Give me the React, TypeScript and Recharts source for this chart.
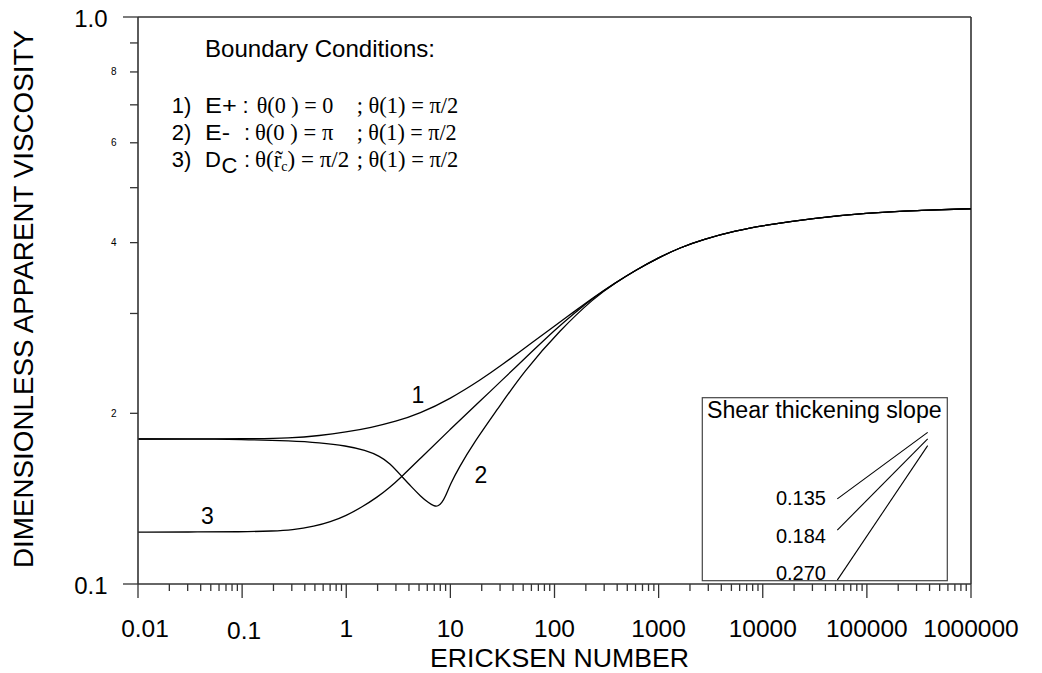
import React from 'react';
import { LineChart, Line, XAxis, YAxis, ReferenceLine } from 'recharts';

// Ericksen number (x) and dimensionless apparent viscosity (y)
const E_PLUS_E = [0.01, 0.03, 0.1, 0.3, 0.55, 1, 1.73, 3, 5, 10, 20, 30, 63, 100, 154, 241];
const E_PLUS_V = [0.1802, 0.1802, 0.1803, 0.1809, 0.1826, 0.1853, 0.1887, 0.1935, 0.1995, 0.2121, 0.2298, 0.242, 0.2678, 0.2851, 0.3021, 0.321];

const E_MINUS_E = [0.01, 0.03, 0.1, 0.3, 0.55, 1, 1.52, 2.11, 2.6, 3.4, 4.19, 5.2, 6.24, 6.96, 7.59, 8.28, 8.97, 10, 12, 16.75, 28.1, 50.7, 114, 241];
const E_MINUS_V = [0.1802, 0.1802, 0.1799, 0.1788, 0.1775, 0.1753, 0.1722, 0.168, 0.1635, 0.155, 0.1486, 0.1427, 0.1388, 0.1373, 0.137, 0.1391, 0.1427, 0.15, 0.1601, 0.1773, 0.2029, 0.2371, 0.2809, 0.3198];

const DC_E = [0.01, 0.03, 0.1, 0.2, 0.3, 0.5, 0.7, 1, 1.4, 2, 2.62, 3.4, 5, 10, 20, 30, 63, 100, 154, 241];
const DC_V = [0.1235, 0.1235, 0.1236, 0.124, 0.1245, 0.1264, 0.1286, 0.132, 0.1365, 0.1424, 0.148, 0.1546, 0.1657, 0.1875, 0.2115, 0.2271, 0.2586, 0.2802, 0.3002, 0.3205];

// common branch where the three solutions coincide
const TAIL_E = [380, 593, 1000, 1600, 2650, 5610, 10000, 30000, 100000, 300000, 1000000];
const TAIL_V = [0.3393, 0.3572, 0.3764, 0.3918, 0.4052, 0.4202, 0.4287, 0.4417, 0.4511, 0.456, 0.459];

// shear thickening slope legend lines (start / end in data units)
const SLOPE_LABELS = ['0.135', '0.184', '0.270'];
const SLOPE_E = [52000, 383700];
const SLOPE_V = [
  [0.1413, 0.1851],
  [0.1245, 0.1802],
  [0.1016, 0.1754],
];

const X_MAJOR_TICKS = [0.01, 0.1, 1, 10, 100, 1000, 10000, 100000, 1000000];
const X_TICK_LABELS = ['0.01', '0.1', '1', '10', '100', '1000', '10000', '100000', '1000000'];
const X_MINOR_STEPS = [2, 3, 4, 5, 6, 7, 8, 9];
const Y_TICKS = [0.1, 0.2, 0.3, 0.4, 0.5, 0.6, 0.7, 0.8, 0.9, 1.0];
const Y_TICK_LABELS = ['0.1', '2', '', '4', '', '6', '', '8', '', '1.0'];

const X_TICKS = [
  ...X_MAJOR_TICKS,
  ...X_MAJOR_TICKS.slice(0, -1).flatMap((d) => X_MINOR_STEPS.map((m) => m * d)),
];

const toRows = (es: number[], vs: number[]) => es.map((e, i) => ({ e, v: vs[i] }));
const curve1 = toRows([...E_PLUS_E, ...TAIL_E], [...E_PLUS_V, ...TAIL_V]);
const curve2 = toRows([...E_MINUS_E, ...TAIL_E], [...E_MINUS_V, ...TAIL_V]);
const curve3 = toRows([...DC_E, ...TAIL_E], [...DC_V, ...TAIL_V]);
const slopeRows = SLOPE_V.map((vs) => toRows(SLOPE_E, vs));

const AXIS = '#333';
const SANS = '"Liberation Sans", Arial, sans-serif';
const SERIF = '"Liberation Serif", "Times New Roman", serif';

function XTick(props: any) {
  const { x, y, payload } = props;
  const v = payload.value;
  const i = X_MAJOR_TICKS.findIndex((t) => Math.abs(t - v) / t < 1e-6);
  const major = i >= 0;
  const dx = i === 0 ? 7 : i === 1 ? 2 : 0;
  const dy = i === 1 ? 1.5 : 0;
  return (
    <g>
      <line x1={x} y1={y} x2={x} y2={y + (major ? 14 : 7)} stroke={AXIS} strokeWidth={1.3} />
      {major && (
        <text x={x + dx} y={y + 53 + dy} textAnchor="middle" fontSize={24.5} fontFamily={SANS} fill="#000">
          {X_TICK_LABELS[i]}
        </text>
      )}
    </g>
  );
}

function YTick(props: any) {
  const { x, y, index } = props;
  const big = index === 0 || index === Y_TICKS.length - 1;
  const label = Y_TICK_LABELS[index];
  return (
    <g>
      <line x1={x} y1={y} x2={x - (big ? 15 : 8)} y2={y} stroke={AXIS} strokeWidth={1.3} />
      {label && (
        <text
          x={big ? x - 30.5 : x - 21.5}
          y={big ? y + 9.5 : y + 3.5}
          textAnchor="end"
          fontSize={big ? 24 : 10}
          fontFamily={SANS}
          fill="#000"
        >
          {label}
        </text>
      )}
    </g>
  );
}

function Annotations() {
  const sans = { fontFamily: SANS, fill: '#000' };
  const serif = { fontFamily: SERIF, fill: '#000' };
  return (
    <svg width={1042} height={673} style={{ position: 'absolute', left: 0, top: 0, pointerEvents: 'none' }}>
      <text x={33} y={299} transform="rotate(-90, 33, 299)" textAnchor="middle" fontSize={27} textLength={538} lengthAdjust="spacingAndGlyphs" {...sans}>
        DIMENSIONLESS APPARENT VISCOSITY
      </text>
      <text x={559.5} y={666.7} textAnchor="middle" fontSize={26} textLength={259} lengthAdjust="spacingAndGlyphs" {...sans}>
        ERICKSEN NUMBER
      </text>

      <text x={205} y={57.3} fontSize={24} textLength={230} lengthAdjust="spacingAndGlyphs" {...sans}>Boundary Conditions:</text>

      <text x={171.7} y={113.3} fontSize={22} {...sans}>1)</text>
      <text x={205} y={113.3} fontSize={22} textLength={31.7} lengthAdjust="spacingAndGlyphs" {...sans}>E+</text>
      <text x={242.5} y={113.3} fontSize={22} {...sans}>:</text>
      <text x={256.7} y={113.3} fontSize={23} textLength={76.6} lengthAdjust="spacingAndGlyphs" {...serif}>θ(0 ) = 0</text>
      <text x={356.7} y={113.3} fontSize={23} textLength={101.6} lengthAdjust="spacingAndGlyphs" {...serif}>; θ(1) = π/2</text>

      <text x={171.7} y={140} fontSize={22} {...sans}>2)</text>
      <text x={205} y={140} fontSize={22} textLength={25} lengthAdjust="spacingAndGlyphs" {...sans}>E-</text>
      <text x={244} y={140} fontSize={22} {...sans}>:</text>
      <text x={255} y={140} fontSize={23} textLength={78.3} lengthAdjust="spacingAndGlyphs" {...serif}>θ(0 ) = π</text>
      <text x={356.7} y={140} fontSize={23} textLength={100} lengthAdjust="spacingAndGlyphs" {...serif}>; θ(1) = π/2</text>

      <text x={171.7} y={166.7} fontSize={22} {...sans}>3)</text>
      <text x={205} y={166.7} fontSize={22} {...sans}>D</text>
      <text x={221.5} y={173.3} fontSize={22} {...sans}>C</text>
      <text x={244} y={166.7} fontSize={22} {...sans}>:</text>
      <text x={255} y={166.7} fontSize={23} {...serif}>
        θ(r̃<tspan fontSize={14} dy={4}>c</tspan>
        <tspan dy={-4}>) = π/2</tspan>
      </text>
      <text x={356.7} y={166.7} fontSize={23} textLength={101.6} lengthAdjust="spacingAndGlyphs" {...serif}>; θ(1) = π/2</text>

      <text x={418} y={403.3} textAnchor="middle" fontSize={23} {...sans}>1</text>
      <text x={481} y={483.3} textAnchor="middle" fontSize={23} {...sans}>2</text>
      <text x={207.5} y={524} textAnchor="middle" fontSize={23} {...sans}>3</text>

      <rect x={702.3} y={397.7} width={245} height={183} fill="none" stroke="#444" strokeWidth={1.2} />
      <text x={707} y={418} fontSize={23} textLength={234.7} lengthAdjust="spacingAndGlyphs" {...sans}>Shear thickening slope</text>
      {SLOPE_LABELS.map((s, i) => (
        <text key={s} x={826} y={[505, 542.7, 580][i]} textAnchor="end" fontSize={20} {...sans}>
          {s}
        </text>
      ))}
    </svg>
  );
}

export default function App() {
  return (
    <div style={{ position: 'absolute', left: 0, top: 0, width: 1042, height: 673, background: '#fff' }}>
      <LineChart width={1042} height={673} margin={{ top: 17, right: 71, bottom: 29, left: 78 }}>
        <XAxis
          dataKey="e"
          type="number"
          scale="log"
          domain={[0.01, 1000000]}
          allowDataOverflow
          ticks={X_TICKS}
          interval={0}
          tickLine={false}
          tickSize={0}
          tickMargin={0}
          height={60}
          tick={<XTick />}
          axisLine={{ stroke: AXIS, strokeWidth: 1.6 }}
        />
        <YAxis
          dataKey="v"
          type="number"
          scale="log"
          domain={[0.1, 1]}
          allowDataOverflow
          ticks={Y_TICKS}
          interval={0}
          tickLine={false}
          tickSize={0}
          tickMargin={0}
          width={60}
          tick={<YTick />}
          axisLine={{ stroke: AXIS, strokeWidth: 1.6 }}
        />
        <ReferenceLine y={1} stroke={AXIS} strokeWidth={1.6} />
        <ReferenceLine x={1000000} stroke={AXIS} strokeWidth={1.6} />
        <Line data={curve1} dataKey="v" type="basis" stroke="#000" strokeWidth={1.3} dot={false} isAnimationActive={false} />
        <Line data={curve2} dataKey="v" type="basis" stroke="#000" strokeWidth={1.3} dot={false} isAnimationActive={false} />
        <Line data={curve3} dataKey="v" type="basis" stroke="#000" strokeWidth={1.3} dot={false} isAnimationActive={false} />
        {slopeRows.map((rows, i) => (
          <Line key={i} data={rows} dataKey="v" type="linear" stroke="#000" strokeWidth={1.1} dot={false} isAnimationActive={false} />
        ))}
      </LineChart>
      <Annotations />
    </div>
  );
}
